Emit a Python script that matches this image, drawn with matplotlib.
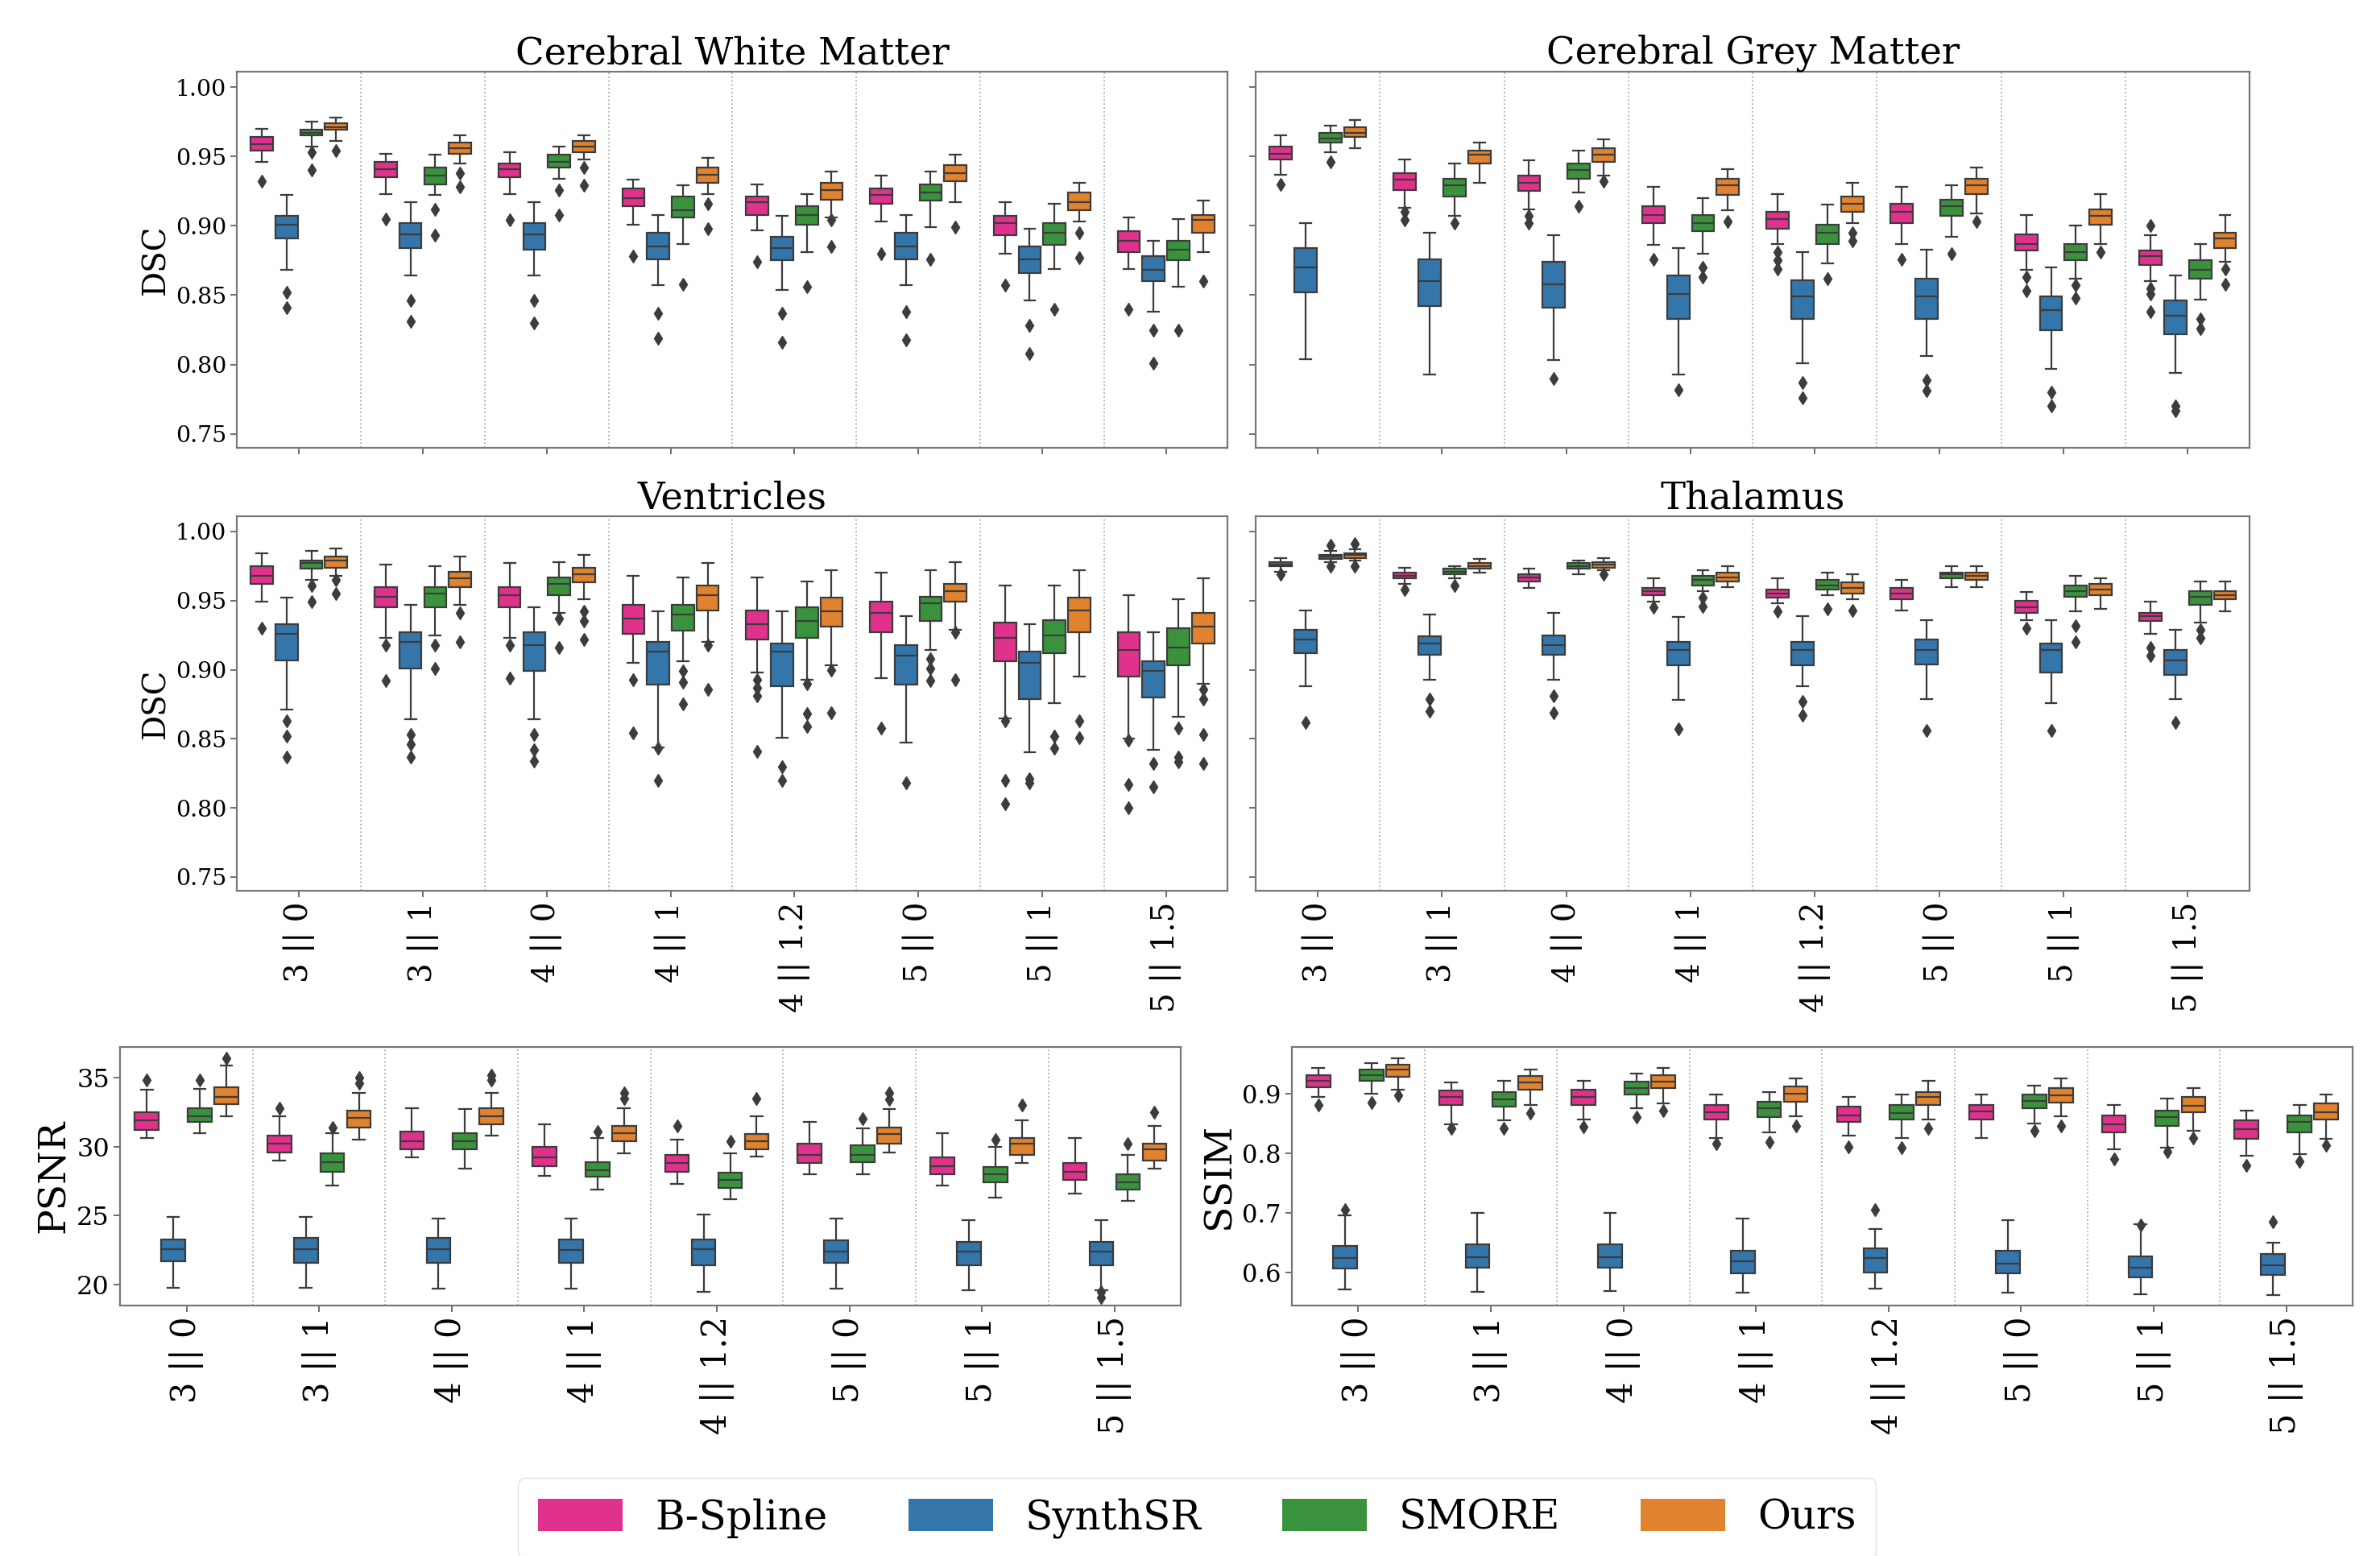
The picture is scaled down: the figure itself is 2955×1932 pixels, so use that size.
import matplotlib
matplotlib.use("Agg")
import matplotlib.pyplot as plt
from matplotlib.patches import Patch

plt.rcParams['font.family'] = ['DejaVu Serif']

# x categories: scale factor || slice gap
groups = ["3 || 0", "3 || 1", "4 || 0", "4 || 1", "4 || 1.2", "5 || 0", "5 || 1", "5 || 1.5"]
methods = ["B-Spline", "SynthSR", "SMORE", "Ours"]
colors = ["#e0318d", "#3475aa", "#3a933c", "#e0822e"]

# each box: (whislo, q1, median, q3, whishi); fliers listed per group
# ---- Cerebral White Matter (DSC)
wm_bspline = [(0.946, 0.954, 0.959, 0.964, 0.970), (0.923, 0.935, 0.941, 0.946, 0.952),
              (0.923, 0.935, 0.941, 0.945, 0.953), (0.901, 0.914, 0.920, 0.927, 0.933),
              (0.897, 0.908, 0.917, 0.921, 0.930), (0.903, 0.916, 0.922, 0.927, 0.936),
              (0.880, 0.893, 0.902, 0.907, 0.917), (0.869, 0.881, 0.889, 0.896, 0.906)]
wm_bspline_fl = [[0.932], [0.905], [0.904], [0.878], [0.874], [0.880], [0.857], [0.840]]
wm_synthsr = [(0.868, 0.891, 0.901, 0.907, 0.922), (0.864, 0.884, 0.894, 0.902, 0.917),
              (0.864, 0.883, 0.894, 0.902, 0.917), (0.857, 0.876, 0.885, 0.895, 0.908),
              (0.854, 0.875, 0.884, 0.892, 0.907), (0.857, 0.876, 0.885, 0.895, 0.908),
              (0.846, 0.866, 0.876, 0.885, 0.898), (0.838, 0.860, 0.868, 0.878, 0.889)]
wm_synthsr_fl = [[0.852, 0.841], [0.846, 0.831], [0.846, 0.830], [0.837, 0.819],
                 [0.837, 0.816], [0.838, 0.818], [0.828, 0.808], [0.825, 0.801]]
wm_smore = [(0.957, 0.965, 0.967, 0.969, 0.975), (0.922, 0.930, 0.936, 0.942, 0.951),
            (0.934, 0.942, 0.946, 0.951, 0.957), (0.887, 0.906, 0.911, 0.921, 0.929),
            (0.881, 0.901, 0.908, 0.914, 0.923), (0.899, 0.918, 0.924, 0.930, 0.939),
            (0.869, 0.886, 0.895, 0.902, 0.916), (0.856, 0.875, 0.883, 0.889, 0.905)]
wm_smore_fl = [[0.953, 0.940], [0.912, 0.893], [0.926, 0.908], [0.858], [0.856], [0.876], [0.840], [0.825]]
wm_ours = [(0.961, 0.969, 0.971, 0.974, 0.978), (0.945, 0.952, 0.956, 0.960, 0.965),
           (0.948, 0.953, 0.957, 0.961, 0.965), (0.923, 0.931, 0.937, 0.942, 0.949),
           (0.906, 0.919, 0.926, 0.931, 0.939), (0.917, 0.932, 0.938, 0.944, 0.951),
           (0.903, 0.911, 0.917, 0.924, 0.931), (0.881, 0.895, 0.904, 0.908, 0.918)]
wm_ours_fl = [[0.954], [0.938, 0.928], [0.942, 0.929], [0.916, 0.898], [0.904, 0.885], [0.899],
              [0.895, 0.877], [0.860]]

# ---- Cerebral Grey Matter (DSC)
gm_bspline = [(0.937, 0.948, 0.952, 0.957, 0.965), (0.913, 0.926, 0.933, 0.938, 0.948),
              (0.912, 0.925, 0.931, 0.936, 0.947), (0.886, 0.902, 0.908, 0.914, 0.928),
              (0.887, 0.898, 0.905, 0.910, 0.923), (0.887, 0.902, 0.910, 0.916, 0.928),
              (0.868, 0.882, 0.887, 0.894, 0.908), (0.860, 0.872, 0.878, 0.882, 0.893)]
gm_bspline_fl = [[0.930], [0.910, 0.904], [0.907, 0.902], [0.876], [0.881, 0.875, 0.869], [0.876],
                 [0.863, 0.853], [0.900, 0.855, 0.851, 0.838]]
gm_synthsr = [(0.804, 0.852, 0.870, 0.884, 0.902), (0.793, 0.842, 0.860, 0.876, 0.895),
              (0.803, 0.841, 0.858, 0.874, 0.893), (0.793, 0.833, 0.851, 0.864, 0.884),
              (0.801, 0.833, 0.849, 0.861, 0.881), (0.806, 0.833, 0.849, 0.862, 0.883),
              (0.797, 0.825, 0.839, 0.849, 0.870), (0.794, 0.822, 0.835, 0.846, 0.864)]
gm_synthsr_fl = [[], [], [0.790], [0.782], [0.787, 0.776], [0.789, 0.781], [0.780, 0.770], [0.770, 0.767]]
gm_smore = [(0.953, 0.960, 0.963, 0.967, 0.972), (0.907, 0.921, 0.929, 0.934, 0.945),
            (0.924, 0.934, 0.940, 0.945, 0.954), (0.880, 0.896, 0.902, 0.908, 0.920),
            (0.873, 0.887, 0.895, 0.901, 0.915), (0.892, 0.907, 0.914, 0.919, 0.929),
            (0.862, 0.875, 0.881, 0.887, 0.900), (0.847, 0.862, 0.868, 0.875, 0.887)]
gm_smore_fl = [[0.946], [0.902], [0.914], [0.870, 0.863], [0.862], [0.880], [0.857, 0.848], [0.833, 0.826]]
gm_ours = [(0.956, 0.964, 0.967, 0.971, 0.976), (0.931, 0.945, 0.951, 0.954, 0.960),
           (0.936, 0.946, 0.951, 0.956, 0.962), (0.911, 0.922, 0.929, 0.934, 0.941),
           (0.902, 0.910, 0.916, 0.921, 0.931), (0.909, 0.923, 0.929, 0.934, 0.942),
           (0.887, 0.901, 0.907, 0.912, 0.923), (0.874, 0.884, 0.891, 0.895, 0.908)]
gm_ours_fl = [[], [], [0.932], [0.903], [0.895, 0.889], [0.903], [0.881], [0.869, 0.858]]

# ---- Ventricles (DSC)
ve_bspline = [(0.949, 0.962, 0.968, 0.975, 0.984), (0.923, 0.945, 0.953, 0.960, 0.976),
              (0.923, 0.945, 0.954, 0.960, 0.977), (0.905, 0.926, 0.937, 0.947, 0.968),
              (0.898, 0.922, 0.933, 0.943, 0.967), (0.894, 0.927, 0.941, 0.949, 0.970),
              (0.865, 0.906, 0.923, 0.934, 0.961), (0.850, 0.895, 0.914, 0.927, 0.954)]
ve_bspline_fl = [[0.930], [0.918, 0.892], [0.918, 0.894], [0.893, 0.854], [0.893, 0.887, 0.881, 0.841],
                 [0.858], [0.863, 0.820, 0.803], [0.849, 0.817, 0.800]]
ve_synthsr = [(0.871, 0.907, 0.926, 0.933, 0.952), (0.864, 0.901, 0.920, 0.927, 0.947),
              (0.864, 0.899, 0.918, 0.927, 0.945), (0.844, 0.889, 0.913, 0.920, 0.942),
              (0.851, 0.888, 0.913, 0.919, 0.942), (0.847, 0.889, 0.910, 0.918, 0.939),
              (0.840, 0.879, 0.905, 0.913, 0.933), (0.842, 0.880, 0.899, 0.906, 0.927)]
ve_synthsr_fl = [[0.863, 0.852, 0.837], [0.853, 0.846, 0.837], [0.853, 0.842, 0.834], [0.843, 0.820],
                 [0.830, 0.820], [0.818], [0.821, 0.818], [0.832, 0.815]]
ve_smore = [(0.965, 0.973, 0.977, 0.979, 0.986), (0.925, 0.945, 0.955, 0.960, 0.975),
            (0.941, 0.954, 0.962, 0.967, 0.978), (0.906, 0.928, 0.940, 0.947, 0.967),
            (0.893, 0.923, 0.935, 0.945, 0.964), (0.914, 0.935, 0.948, 0.953, 0.972),
            (0.876, 0.912, 0.925, 0.936, 0.961), (0.866, 0.903, 0.916, 0.930, 0.951)]
ve_smore_fl = [[0.961, 0.949], [0.918, 0.901], [0.937, 0.916], [0.899, 0.891, 0.875],
               [0.890, 0.868, 0.859], [0.908, 0.901, 0.892], [0.852, 0.843], [0.858, 0.837, 0.833]]
ve_ours = [(0.968, 0.974, 0.979, 0.982, 0.988), (0.947, 0.960, 0.966, 0.971, 0.982),
           (0.951, 0.963, 0.969, 0.974, 0.983), (0.920, 0.943, 0.954, 0.961, 0.977),
           (0.903, 0.931, 0.942, 0.952, 0.972), (0.929, 0.949, 0.957, 0.962, 0.978),
           (0.895, 0.927, 0.943, 0.952, 0.972), (0.890, 0.919, 0.931, 0.941, 0.966)]
ve_ours_fl = [[0.965, 0.955], [0.941, 0.920], [0.942, 0.935, 0.922], [0.918, 0.886], [0.900, 0.869],
              [0.927, 0.893], [0.863, 0.851], [0.886, 0.879, 0.853, 0.832]]

# ---- Thalamus (DSC)
th_bspline = [(0.971, 0.975, 0.976, 0.978, 0.981), (0.962, 0.966, 0.968, 0.970, 0.974),
              (0.959, 0.964, 0.967, 0.969, 0.973), (0.949, 0.954, 0.957, 0.959, 0.966),
              (0.948, 0.952, 0.955, 0.958, 0.966), (0.943, 0.951, 0.955, 0.959, 0.965),
              (0.936, 0.941, 0.945, 0.950, 0.956), (0.926, 0.935, 0.939, 0.941, 0.949)]
th_bspline_fl = [[0.969], [0.958], [], [0.945], [0.942], [], [0.930], [0.916, 0.910]]
th_synthsr = [(0.888, 0.912, 0.922, 0.929, 0.943), (0.893, 0.911, 0.919, 0.924, 0.940),
              (0.893, 0.911, 0.918, 0.925, 0.941), (0.878, 0.903, 0.914, 0.920, 0.938),
              (0.888, 0.903, 0.914, 0.920, 0.939), (0.879, 0.904, 0.914, 0.922, 0.936),
              (0.876, 0.898, 0.914, 0.919, 0.936), (0.879, 0.896, 0.907, 0.914, 0.929)]
th_synthsr_fl = [[0.862], [0.879, 0.870], [0.881, 0.869], [0.857], [0.877, 0.867], [0.856], [0.856], [0.862]]
th_smore = [(0.978, 0.980, 0.982, 0.983, 0.986), (0.966, 0.969, 0.971, 0.973, 0.975),
            (0.969, 0.973, 0.975, 0.977, 0.979), (0.957, 0.961, 0.965, 0.968, 0.972),
            (0.954, 0.958, 0.961, 0.965, 0.970), (0.960, 0.966, 0.969, 0.970, 0.975),
            (0.942, 0.953, 0.957, 0.961, 0.968), (0.934, 0.947, 0.953, 0.957, 0.964)]
th_smore_fl = [[0.990, 0.975], [0.961], [], [0.952, 0.946], [0.944], [], [0.932, 0.920], [0.929, 0.923]]
th_ours = [(0.979, 0.981, 0.983, 0.984, 0.987), (0.970, 0.973, 0.975, 0.977, 0.980),
           (0.972, 0.974, 0.976, 0.978, 0.981), (0.960, 0.964, 0.967, 0.970, 0.975),
           (0.951, 0.955, 0.959, 0.963, 0.969), (0.960, 0.965, 0.968, 0.970, 0.975),
           (0.944, 0.954, 0.958, 0.962, 0.966), (0.942, 0.951, 0.954, 0.957, 0.964)]
th_ours_fl = [[0.991, 0.975], [], [0.969], [], [0.943], [], [], []]

# ---- PSNR
ps_bspline = [(30.6, 31.2, 31.9, 32.5, 34.1), (29.0, 29.6, 30.2, 30.8, 32.2),
              (29.2, 29.8, 30.4, 31.1, 32.8), (27.9, 28.6, 29.2, 30.0, 31.6),
              (27.3, 28.2, 28.8, 29.4, 30.5), (28.0, 28.8, 29.4, 30.2, 31.8),
              (27.2, 28.0, 28.6, 29.2, 31.0), (26.6, 27.6, 28.2, 28.8, 30.6)]
ps_bspline_fl = [[34.8], [32.8], [], [], [31.5], [], [], []]
ps_synthsr = [(19.8, 21.7, 22.6, 23.3, 24.9), (19.8, 21.6, 22.6, 23.4, 24.9),
              (19.7, 21.6, 22.6, 23.4, 24.8), (19.7, 21.6, 22.5, 23.3, 24.8),
              (19.5, 21.4, 22.6, 23.3, 25.1), (19.7, 21.6, 22.4, 23.2, 24.8),
              (19.6, 21.4, 22.4, 23.1, 24.7), (19.6, 21.4, 22.4, 23.1, 24.7)]
ps_synthsr_fl = [[], [], [], [], [], [], [], [19.5, 19.1]]
ps_smore = [(31.0, 31.8, 32.2, 32.8, 34.2), (27.2, 28.2, 28.9, 29.5, 31.0),
            (28.4, 29.8, 30.4, 31.0, 32.7), (26.9, 27.8, 28.3, 28.9, 30.6),
            (26.2, 27.0, 27.6, 28.1, 29.5), (28.0, 28.9, 29.4, 30.1, 31.3),
            (26.3, 27.4, 28.0, 28.5, 30.0), (26.1, 26.9, 27.4, 28.0, 29.4)]
ps_smore_fl = [[34.8], [31.4], [], [31.1], [30.4], [32.0], [30.5], [30.2]]
ps_ours = [(32.2, 33.1, 33.6, 34.3, 35.9), (30.5, 31.4, 32.1, 32.6, 33.9),
           (30.8, 31.6, 32.2, 32.8, 33.9), (29.5, 30.4, 31.0, 31.5, 32.8),
           (29.3, 29.8, 30.4, 30.9, 32.2), (29.6, 30.2, 30.9, 31.4, 32.7),
           (28.8, 29.4, 30.2, 30.6, 31.9), (28.4, 29.0, 29.8, 30.2, 31.5)]
ps_ours_fl = [[36.4], [35.0, 34.6], [35.2, 34.8], [33.9, 33.5], [33.5], [33.9, 33.4], [33.0], [32.5]]

# ---- SSIM
ss_bspline = [(0.895, 0.911, 0.921, 0.931, 0.943), (0.848, 0.881, 0.894, 0.905, 0.919),
              (0.856, 0.881, 0.894, 0.907, 0.921), (0.825, 0.856, 0.869, 0.881, 0.899),
              (0.829, 0.852, 0.863, 0.878, 0.895), (0.825, 0.857, 0.870, 0.881, 0.899),
              (0.806, 0.835, 0.849, 0.863, 0.881), (0.795, 0.824, 0.840, 0.855, 0.872)]
ss_bspline_fl = [[0.881], [0.841], [0.844], [0.816], [0.811], [], [0.790], [0.780]]
ss_synthsr = [(0.571, 0.606, 0.624, 0.644, 0.695), (0.567, 0.608, 0.625, 0.647, 0.699),
              (0.568, 0.608, 0.625, 0.647, 0.699), (0.566, 0.598, 0.618, 0.636, 0.690),
              (0.573, 0.600, 0.624, 0.640, 0.673), (0.565, 0.598, 0.614, 0.636, 0.687),
              (0.563, 0.591, 0.608, 0.627, 0.681), (0.561, 0.596, 0.611, 0.630, 0.650)]
ss_synthsr_fl = [[0.705], [], [], [], [0.705], [], [0.679], [0.685]]
ss_smore = [(0.900, 0.921, 0.931, 0.941, 0.951), (0.855, 0.878, 0.891, 0.903, 0.921),
            (0.876, 0.898, 0.909, 0.920, 0.934), (0.835, 0.861, 0.875, 0.886, 0.903),
            (0.825, 0.856, 0.867, 0.881, 0.898), (0.850, 0.875, 0.888, 0.898, 0.914),
            (0.809, 0.846, 0.861, 0.872, 0.892), (0.798, 0.835, 0.852, 0.863, 0.881)]
ss_smore_fl = [[0.885], [0.841], [0.860], [0.818], [0.809], [0.838], [0.802], [0.786]]
ss_ours = [(0.906, 0.928, 0.940, 0.948, 0.959), (0.881, 0.906, 0.919, 0.929, 0.941),
           (0.884, 0.909, 0.920, 0.931, 0.943), (0.862, 0.886, 0.900, 0.912, 0.925),
           (0.856, 0.881, 0.894, 0.903, 0.921), (0.862, 0.885, 0.897, 0.909, 0.925),
           (0.838, 0.869, 0.880, 0.894, 0.909), (0.824, 0.857, 0.869, 0.883, 0.899)]
ss_ours_fl = [[0.897], [0.867], [0.872], [0.846], [0.841], [0.846], [0.825], [0.813]]


def make_stats(boxes, fliers):
    out = []
    for (lo, q1, med, q3, hi), fl in zip(boxes, fliers):
        out.append(dict(whislo=lo, q1=q1, med=med, q3=q3, whishi=hi, fliers=fl))
    return out


def draw_panel(ax, series, title=None, ylabel=None, ylim=None, yticks=None, yfmt="{:.2f}",
               show_ylabels=True, show_xlabels=True, ytick_fs=20.5, ylabel_fs=28, xtick_fs=28):
    edge = "#3c3c3c"
    for m, (boxes, fliers) in enumerate(series):
        pos = [g + (m - 1.5) * 0.2 for g in range(len(groups))]
        ax.bxp(make_stats(boxes, fliers), positions=pos, widths=0.18, patch_artist=True,
               manage_ticks=False,
               boxprops=dict(facecolor=colors[m], edgecolor=edge, linewidth=1.6),
               medianprops=dict(color=edge, linewidth=1.6),
               whiskerprops=dict(color=edge, linewidth=1.6),
               capprops=dict(color=edge, linewidth=1.6),
               flierprops=dict(marker='d', markerfacecolor=edge, markeredgecolor=edge,
                               markersize=8))
    for b in range(len(groups) - 1):
        ax.axvline(b + 0.5, color="#aaaaaa", linestyle=":", linewidth=1.3, zorder=0)
    ax.set_xlim(-0.5, len(groups) - 0.5)
    ax.set_ylim(*ylim)
    ax.set_yticks(yticks)
    ax.set_xticks(range(len(groups)))
    if show_xlabels:
        ax.set_xticklabels(groups, rotation=90, fontsize=xtick_fs)
    else:
        ax.set_xticklabels([])
    if show_ylabels:
        ax.set_yticklabels([yfmt.format(t) for t in yticks], fontsize=ytick_fs)
    else:
        ax.set_yticklabels([])
    if title:
        ax.set_title(title, fontsize=33.5, pad=6)
    if ylabel:
        ax.set_ylabel(ylabel, fontsize=ylabel_fs, labelpad=4)
    for sp in ax.spines.values():
        sp.set_color("#777777")
        sp.set_linewidth(1.6)
    ax.tick_params(length=6, width=1.2, color="#555555")


fig = plt.figure(figsize=(29.55, 19.32), dpi=100)

dsc_ticks = [0.75, 0.80, 0.85, 0.90, 0.95, 1.00]
dsc_lim = (0.740, 1.011)

ax_wm = fig.add_axes([0.0996, 0.7122, 0.4163, 0.2417])
draw_panel(ax_wm, [(wm_bspline, wm_bspline_fl), (wm_synthsr, wm_synthsr_fl),
                   (wm_smore, wm_smore_fl), (wm_ours, wm_ours_fl)],
           title="Cerebral White Matter", ylabel="DSC", ylim=dsc_lim, yticks=dsc_ticks,
           show_xlabels=False)

ax_gm = fig.add_axes([0.5276, 0.7122, 0.4177, 0.2417])
draw_panel(ax_gm, [(gm_bspline, gm_bspline_fl), (gm_synthsr, gm_synthsr_fl),
                   (gm_smore, gm_smore_fl), (gm_ours, gm_ours_fl)],
           title="Cerebral Grey Matter", ylim=dsc_lim, yticks=dsc_ticks,
           show_ylabels=False, show_xlabels=False)

ax_ve = fig.add_axes([0.0996, 0.4275, 0.4163, 0.2407])
draw_panel(ax_ve, [(ve_bspline, ve_bspline_fl), (ve_synthsr, ve_synthsr_fl),
                   (ve_smore, ve_smore_fl), (ve_ours, ve_ours_fl)],
           title="Ventricles", ylabel="DSC", ylim=dsc_lim, yticks=dsc_ticks)

ax_th = fig.add_axes([0.5276, 0.4275, 0.4177, 0.2407])
draw_panel(ax_th, [(th_bspline, th_bspline_fl), (th_synthsr, th_synthsr_fl),
                   (th_smore, th_smore_fl), (th_ours, th_ours_fl)],
           title="Thalamus", ylim=dsc_lim, yticks=dsc_ticks, show_ylabels=False)

ax_ps = fig.add_axes([0.0505, 0.161, 0.4457, 0.166])
draw_panel(ax_ps, [(ps_bspline, ps_bspline_fl), (ps_synthsr, ps_synthsr_fl),
                   (ps_smore, ps_smore_fl), (ps_ours, ps_ours_fl)],
           ylabel="PSNR", ylim=(18.5, 37.2), yticks=[20, 25, 30, 35], yfmt="{:d}",
           ytick_fs=23, ylabel_fs=34, xtick_fs=30)

ax_ss = fig.add_axes([0.5428, 0.161, 0.4457, 0.166])
draw_panel(ax_ss, [(ss_bspline, ss_bspline_fl), (ss_synthsr, ss_synthsr_fl),
                   (ss_smore, ss_smore_fl), (ss_ours, ss_ours_fl)],
           ylabel="SSIM", ylim=(0.544, 0.978), yticks=[0.6, 0.7, 0.8, 0.9], yfmt="{:.1f}",
           ytick_fs=22, ylabel_fs=34, xtick_fs=30)

handles = [Patch(facecolor=c, edgecolor="none") for c in colors]
fig.legend(handles, methods, loc="upper center", bbox_to_anchor=(0.503, 0.063), ncol=4,
           fontsize=36, frameon=True, handlelength=2.1, handleheight=0.85, columnspacing=2.0,
           borderpad=0.5, edgecolor="#dddddd")

fig.savefig("out.png", dpi=100)
